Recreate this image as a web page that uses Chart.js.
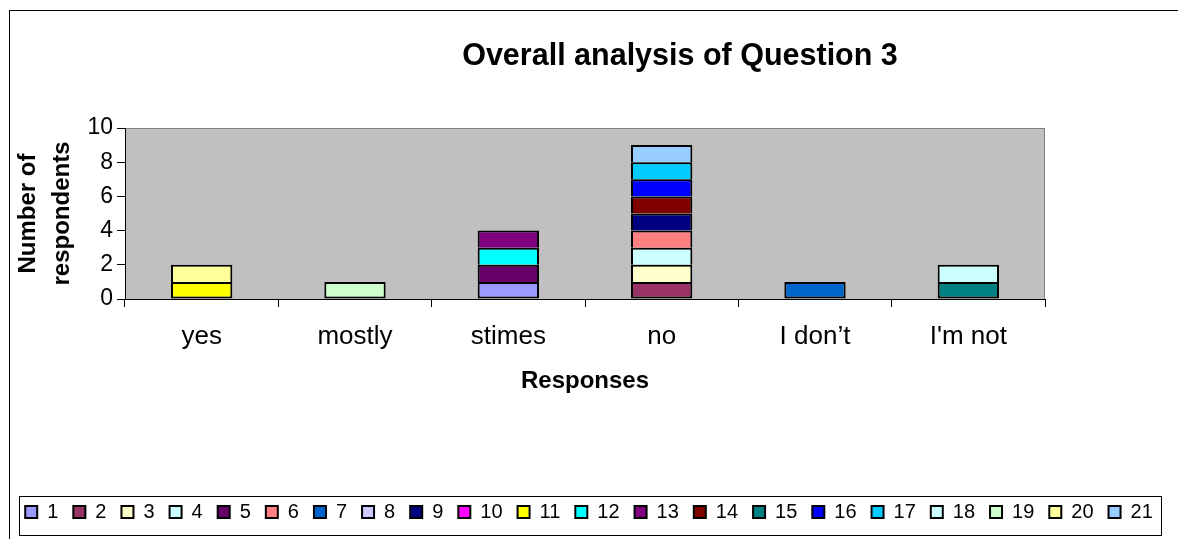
<!DOCTYPE html>
<html>
<head>
<meta charset="utf-8">
<script src="https://cdn.jsdelivr.net/npm/chart.js@4/dist/chart.umd.min.js"></script>
<style>
html,body{margin:0;padding:0;background:#fff;overflow:hidden}
#wrap{width:1178px;height:539px;position:relative}
</style>
</head>
<body>
<div id="wrap"><canvas id="c" width="1178" height="539"></canvas></div>
<script>
// ---- data ----
const chartTitle = 'Overall analysis of Question 3';
const xAxisTitle = 'Responses';
const yAxisTitle = ['Number of', 'respondents'];
const categories = ['yes', 'mostly', 'stimes', 'no', 'I don\u2019t', "I'm not"];
const yTicks = [0, 2, 4, 6, 8, 10];
const seriesLabels = ['1','2','3','4','5','6','7','8','9','10','11','12','13','14','15','16','17','18','19','20','21'];
// one array per respondent series, values per category
const s1  = [null, null, 1, null, null, null];
const s2  = [null, null, null, 1, null, null];
const s3  = [null, null, null, 1, null, null];
const s4  = [null, null, null, 1, null, null];
const s5  = [null, null, 1, null, null, null];
const s6  = [null, null, null, 1, null, null];
const s7  = [null, null, null, null, 1, null];
const s8  = [null, null, null, null, null, null];
const s9  = [null, null, null, 1, null, null];
const s10 = [null, null, null, null, null, null];
const s11 = [1, null, null, null, null, null];
const s12 = [null, null, 1, null, null, null];
const s13 = [null, null, 1, null, null, null];
const s14 = [null, null, null, 1, null, null];
const s15 = [null, null, null, null, null, 1];
const s16 = [null, null, null, 1, null, null];
const s17 = [null, null, null, 1, null, null];
const s18 = [null, null, null, null, null, 1];
const s19 = [null, 1, null, null, null, null];
const s20 = [1, null, null, null, null, null];
const s21 = [null, null, null, 1, null, null];
const seriesValues = [s1,s2,s3,s4,s5,s6,s7,s8,s9,s10,s11,s12,s13,s14,s15,s16,s17,s18,s19,s20,s21];

// ---- styles ----
const seriesColors = ['#9999FF','#993366','#FFFFCC','#CCFFFF','#660066','#FF8080','#0066CC','#CCCCFF',
  '#000080','#FF00FF','#FFFF00','#00FFFF','#800080','#800000','#008080','#0000FF','#00CCFF','#CCFFFF',
  '#CCFFCC','#FFFF99','#99CCFF'];
const FONT = "'Liberation Sans', Arial, sans-serif";

// lowest segment in each stack keeps its bottom edge; others share the edge below
function skipFor(ctx) {
  const di = ctx.dataIndex;
  for (let k = 0; k < seriesValues.length; k++) {
    if (seriesValues[k][di] != null) return k === ctx.datasetIndex ? false : 'bottom';
  }
  return false;
}

const datasets = seriesLabels.map((lab, i) => ({
  label: lab,
  data: seriesValues[i],
  backgroundColor: seriesColors[i],
  borderColor: '#000000',
  borderWidth: 2,
  inflateAmount: 0,
  borderSkipped: skipFor,
  barPercentage: 0.4,
  categoryPercentage: 1.0
}));

const decor = {
  id: 'decor',
  beforeDraw(chart) {
    const {ctx, chartArea: a} = chart;
    ctx.save();
    ctx.fillStyle = '#ffffff';
    ctx.fillRect(0, 0, chart.width, chart.height);
    // outer chart border
    ctx.strokeStyle = '#000000';
    ctx.lineWidth = 1;
    ctx.strokeRect(9.5, 10.5, chart.width + 20, chart.height + 20);
    // plot area
    ctx.fillStyle = '#C0C0C0';
    ctx.fillRect(a.left, a.top, a.right - a.left, a.bottom - a.top);
    ctx.strokeStyle = '#808080';
    ctx.strokeRect(a.left + 0.5, a.top + 0.5, a.right - a.left - 1, a.bottom - a.top);
    ctx.restore();
  },
  afterDraw(chart) {
    const {ctx} = chart;
    ctx.save();
    // title
    ctx.fillStyle = '#000';
    ctx.font = "bold 30.5px " + FONT;
    ctx.textAlign = 'center';
    ctx.textBaseline = 'middle';
    ctx.fillText(chartTitle, 680, 57);
    // legend frame
    const lg = chart.legend;
    if (lg && lg.legendHitBoxes && lg.legendHitBoxes.length) {
      const hb = lg.legendHitBoxes;
      const first = hb[0], last = hb[hb.length - 1];
      const cy = first.top + first.height / 2;
      const x0 = Math.round(first.left - 6) + 0.5;
      const x1 = Math.round(last.left + last.width + 8) + 0.5;
      ctx.strokeStyle = '#000';
      ctx.lineWidth = 1;
      ctx.strokeRect(x0, Math.round(cy - 16) + 0.5, x1 - x0, 39);
    }
    ctx.restore();
  }
};

new Chart(document.getElementById('c'), {
  type: 'bar',
  data: { labels: categories, datasets },
  options: {
    responsive: false,
    animation: false,
    devicePixelRatio: 1,
    layout: { padding: { top: 128, left: 0, right: 0, bottom: 7 } },
    plugins: {
      title: { display: false },
      tooltip: { enabled: false },
      legend: {
        position: 'bottom',
        labels: {
          font: { family: FONT, size: 20, lineHeight: 1.0 },
          color: '#000',
          boxWidth: 12,
          boxHeight: 12,
          padding: 15
        }
      }
    },
    scales: {
      x: {
        stacked: true,
        grid: { display: true, offset: true, drawOnChartArea: false, drawTicks: true, tickLength: 8, color: '#000', lineWidth: 1 },
        border: { display: true, color: '#000', width: 1 },
        ticks: { font: { family: FONT, size: 26 }, color: '#000', padding: 14, maxRotation: 0, autoSkip: false },
        title: { display: true, text: xAxisTitle, color: '#000', font: { family: FONT, size: 24, weight: 'bold' }, padding: { top: 0, bottom: 91 } },
        afterFit(s) { s.height = 188; }
      },
      y: {
        stacked: true,
        min: 0, max: 10,
        afterBuildTicks(s) { s.ticks = yTicks.map(v => ({ value: v })); },
        grid: { display: true, drawOnChartArea: false, drawTicks: true, tickLength: 8, color: '#000' },
        border: { display: true, color: '#000', width: 1 },
        ticks: { font: { family: FONT, size: 23 }, color: '#000', padding: 4 },
        title: { display: true, text: yAxisTitle, color: '#000', font: { family: FONT, size: 24, weight: 'bold', lineHeight: 1.4 }, padding: { top: 12, bottom: 0 } },
        afterFit(s) { s.width = 125; }
      },
      yR: {
        position: 'right',
        display: true,
        grid: { display: false },
        ticks: { display: false },
        border: { display: false },
        afterFit(s) { s.width = 133; }
      }
    }
  },
  plugins: [decor]
});
</script>
</body>
</html>
